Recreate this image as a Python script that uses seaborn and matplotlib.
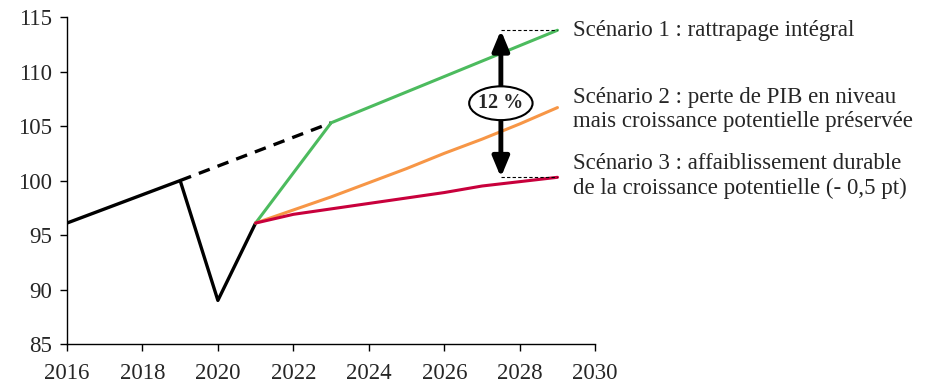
import matplotlib
matplotlib.use("Agg")
import matplotlib.pyplot as plt
from matplotlib.patches import Ellipse
import seaborn as sns
import pandas as pd

sns.set_style("white")
plt.rcParams['font.family'] = ['Liberation Serif', 'DejaVu Serif']

# Data
hist_years = [2016, 2017, 2018, 2019, 2020, 2021]
hist_vals = [96.1, 97.4, 98.7, 100.0, 89.0, 96.1]
trend_years = [2019, 2023]
trend_vals = [100.0, 105.3]
s1_years = [2021, 2023, 2029]
s1_vals = [96.1, 105.3, 113.8]
s_years = [2021, 2022, 2023, 2024, 2025, 2026, 2027, 2028, 2029]
s2_vals = [96.1, 97.3, 98.5, 99.8, 101.1, 102.5, 103.8, 105.2, 106.7]
s3_vals = [96.1, 96.9, 97.4, 97.9, 98.4, 98.9, 99.5, 99.9, 100.3]
labels = ["Scénario 1 : rattrapage intégral",
          "Scénario 2 : perte de PIB en niveau\nmais croissance potentielle préservée",
          "Scénario 3 : affaiblissement durable\nde la croissance potentielle (- 0,5 pt)"]
gap_label = "12 %"
xticks = list(range(2016, 2031, 2))
yticks = list(range(85, 116, 5))

fig = plt.figure(figsize=(9.3, 3.9), dpi=100)
ax = fig.add_axes([0.072, 0.118, 0.568, 0.838])

c_green = "#4cbb5e"
c_orange = "#f79646"
c_red = "#c8003c"

sns.lineplot(x=hist_years, y=hist_vals, ax=ax, color="black", lw=2.4)
sns.lineplot(x=trend_years, y=trend_vals, ax=ax, color="black", lw=2.4, dashes=False,
             linestyle=(0, (3.5, 2.5)))
sns.lineplot(x=s1_years, y=s1_vals, ax=ax, color=c_green, lw=2.2)
sns.lineplot(x=s_years, y=s2_vals, ax=ax, color=c_orange, lw=2.2)
sns.lineplot(x=s_years, y=s3_vals, ax=ax, color=c_red, lw=2.2)

ax.set_xlim(2016, 2030)
ax.set_ylim(85, 115)
ax.set_xticks(xticks)
ax.set_yticks(yticks)
ax.tick_params(axis='both', direction='out', length=5, width=1, labelsize=16.5, color='black',
               bottom=True, left=True, pad=6)
ax.tick_params(axis='x', pad=9)
for s in ['top', 'right']:
    ax.spines[s].set_visible(False)
for s in ['left', 'bottom']:
    ax.spines[s].set_color('black')
    ax.spines[s].set_linewidth(1)

# Gap arrow
ax_x = 2027.5
top = s1_vals[-1]
bot = s3_vals[-1]
ax.plot([ax_x, 2029], [top, top], color='black', lw=0.8, ls=(0, (3, 2)))
ax.plot([ax_x, 2029], [bot, bot], color='black', lw=0.8, ls=(0, (3, 2)))
ax.annotate("", xy=(ax_x, top), xytext=(ax_x, bot),
            arrowprops=dict(arrowstyle='<|-|>,head_length=1.2,head_width=0.5', color='black', lw=3.5,
                            shrinkA=0, shrinkB=0))
ax.add_patch(Ellipse((ax_x, 107.1), 1.68, 3.1, fc='white', ec='black', lw=1.5, zorder=5))
ax.text(ax_x, 107.1, gap_label, ha='center', va='center', fontsize=14.5, fontweight='bold', zorder=6)

# Labels
tx = 2029.4
ax.text(tx, 113.8, labels[0], ha='left', va='center', fontsize=16.5, clip_on=False, linespacing=1.2)
ax.text(tx, 106.5, labels[1], ha='left', va='center', fontsize=16.5, clip_on=False, linespacing=1.2)
ax.text(tx, 100.4, labels[2], ha='left', va='center', fontsize=16.5, clip_on=False, linespacing=1.2)

fig.savefig("out.png", dpi=100)
